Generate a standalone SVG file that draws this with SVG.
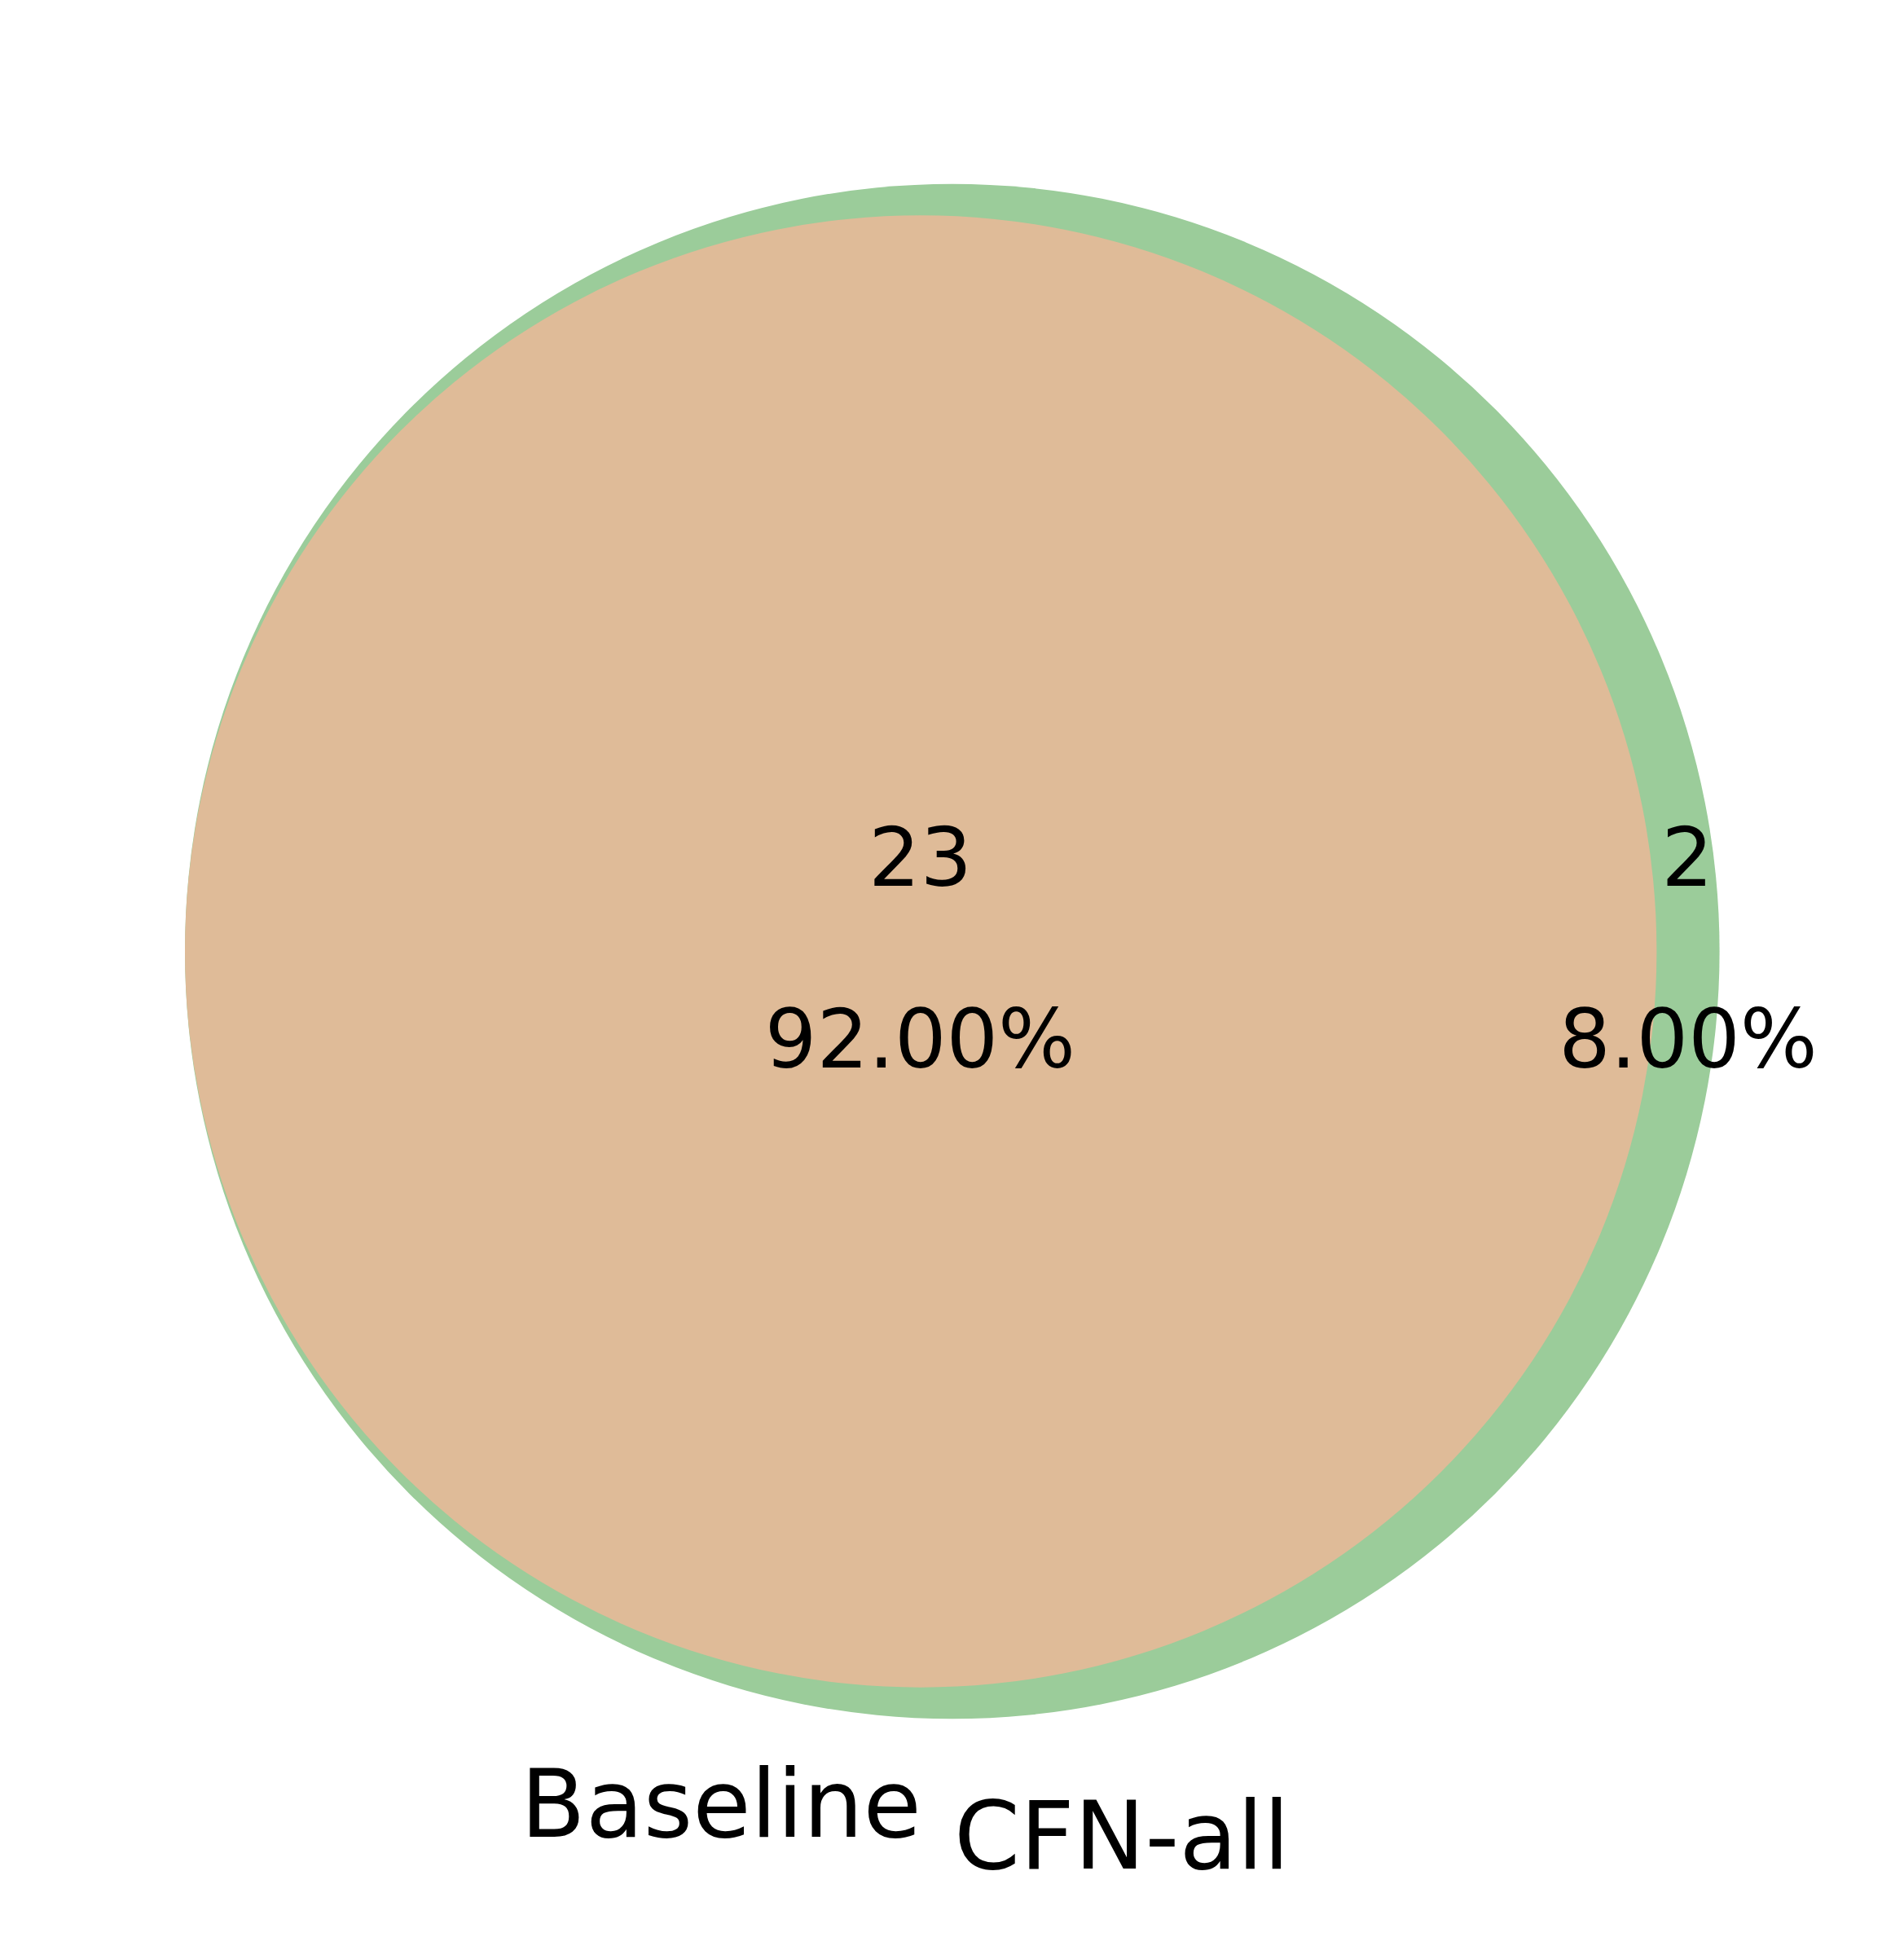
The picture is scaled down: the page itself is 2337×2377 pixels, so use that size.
<svg xmlns="http://www.w3.org/2000/svg" width="2337" height="2377" viewBox="0 0 2337 2377">
<style>
text { font-family: "DejaVu Sans", sans-serif; fill: #000; text-anchor: middle; }
.num { font-size: 100px; }
.lbl { font-size: 116px; }
</style>
<rect x="0" y="0" width="2337" height="2377" fill="#ffffff"/>
<g id="set-cfn-all">
<circle cx="1168.8" cy="1167.5" r="941.8" fill="#9bcc9a"/>
</g>
<g id="set-intersection">
<circle cx="1130.2" cy="1167.5" r="903.2" fill="#dfbb98"/>
</g>
<g id="connectors"></g>
<g id="region-labels">
<text class="num" x="1129.5" y="1087">23</text>
<text class="num" x="1129.5" y="1310">92.00%</text>
<text class="num" x="2071" y="1087">2</text>
<text class="num" x="2072" y="1310">8.00%</text>
</g>
<g id="set-labels">
<text class="lbl" x="885" y="2254">Baseline</text>
<text class="lbl" x="1377" y="2293">CFN-all</text>
</g>
</svg>
